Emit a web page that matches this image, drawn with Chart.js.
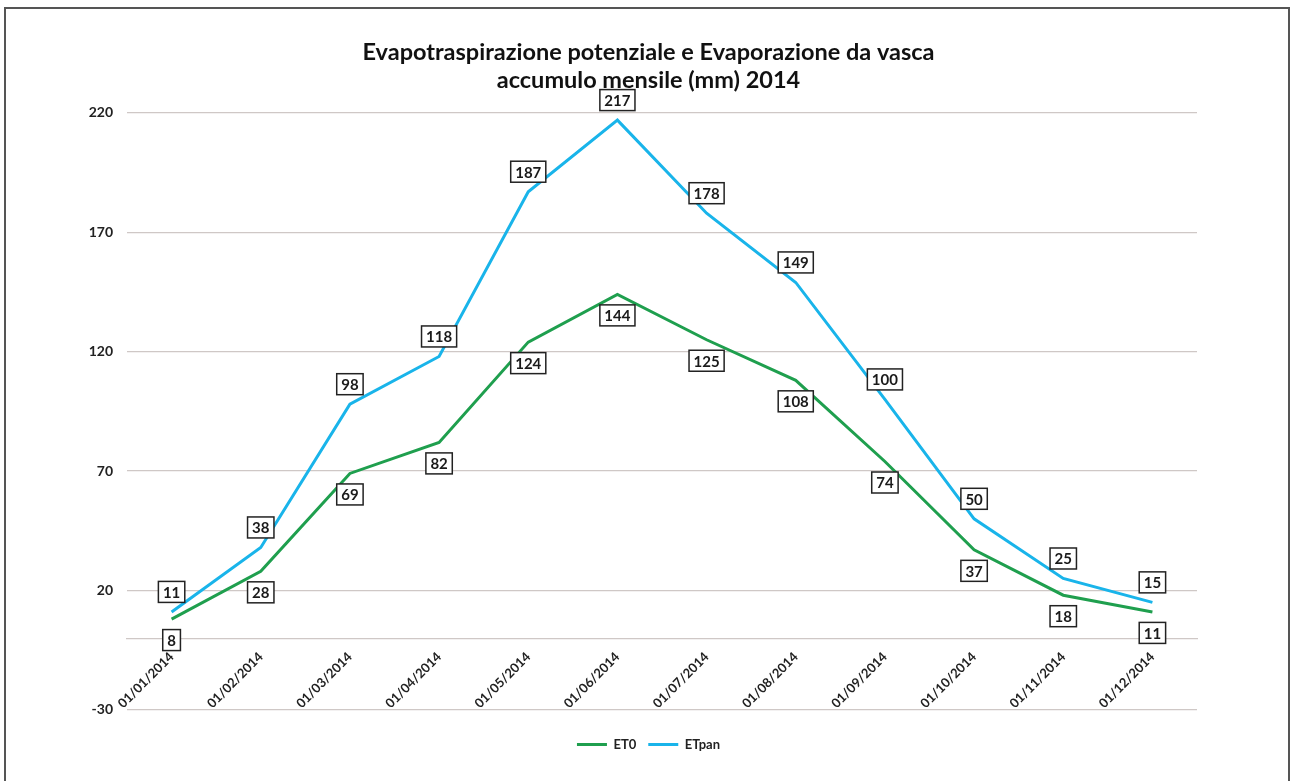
<!DOCTYPE html>
<html>
<head>
<meta charset="utf-8">
<title>Evapotraspirazione 2014</title>
<script src="https://cdn.jsdelivr.net/npm/chart.js@4.4.1/dist/chart.umd.min.js"></script>
<style>
  html, body { margin: 0; padding: 0; background: #fff; }
  #wrap { position: relative; width: 1290px; height: 781px; overflow: hidden; }
  #frame {
    position: absolute; left: 4px; top: 7px; width: 1282px; height: 800px;
    border: 2px solid #555; pointer-events: none;
  }
</style>
</head>
<body>
<div id="wrap">
  <canvas id="etChart" width="1290" height="781"></canvas>
  <div id="frame"></div>
</div>
<script>
// Monthly accumulated values (mm), 2014
const months = ['01/01/2014', '01/02/2014', '01/03/2014', '01/04/2014', '01/05/2014', '01/06/2014',
                '01/07/2014', '01/08/2014', '01/09/2014', '01/10/2014', '01/11/2014', '01/12/2014'];
const et0 = [8, 28, 69, 82, 124, 144, 125, 108, 74, 37, 18, 11];
const etPan = [11, 38, 98, 118, 187, 217, 178, 149, 100, 50, 25, 15];
const yTicks = [-30, 20, 70, 120, 170, 220];

const FONT = 'Lato, "Open Sans", sans-serif';

// Boxed value labels, above or below each point
const boxLabels = {
  id: 'boxLabels',
  afterDatasetsDraw(chart) {
    const ctx = chart.ctx;
    ctx.save();
    ctx.font = 'bold 15px ' + FONT;
    ctx.textAlign = 'center';
    ctx.textBaseline = 'middle';
    chart.data.datasets.forEach((ds, i) => {
      const meta = chart.getDatasetMeta(i);
      meta.data.forEach((pt, j) => {
        const text = String(ds.data[j]);
        const cx = pt.x;
        const cy = pt.y + ds.labelOffset;
        const w = ctx.measureText(text).width + 9;
        const h = 21;
        ctx.fillStyle = '#fff';
        ctx.fillRect(cx - w / 2, cy - h / 2, w, h);
        ctx.lineWidth = 1.5;
        ctx.strokeStyle = '#222';
        ctx.strokeRect(cx - w / 2, cy - h / 2, w, h);
        ctx.fillStyle = '#1a1a1a';
        ctx.fillText(text, cx, cy + 1);
      });
    });
    ctx.restore();
  }
};

// Centre title and legend on the page rather than on the padded area
const centreBlocks = {
  id: 'centreBlocks',
  afterLayout(chart) {
    [chart.legend, chart.titleBlock].forEach(b => {
      b.left += 20;
      b.right += 20;
    });
  }
};

const ctx = document.getElementById('etChart').getContext('2d');

new Chart(ctx, {
  type: 'line',
  data: {
    labels: months,
    datasets: [
      {
        label: 'ET0',
        data: et0,
        borderColor: '#1f9f4e',
        backgroundColor: '#1f9f4e',
        borderWidth: 3,
        pointRadius: 0,
        tension: 0,
        labelOffset: 21
      },
      {
        label: 'ETpan',
        data: etPan,
        borderColor: '#19b4ea',
        backgroundColor: '#19b4ea',
        borderWidth: 3,
        pointRadius: 0,
        tension: 0,
        labelOffset: -20
      }
    ]
  },
  options: {
    responsive: false,
    animation: false,
    layout: { padding: { left: 60, right: 93, top: 10, bottom: 20 } },
    plugins: {
      title: {
        display: true,
        text: ['Evapotraspirazione potenziale e Evaporazione da vasca', 'accumulo mensile (mm) 2014'],
        color: '#111',
        font: { family: FONT, size: 23.5, weight: 'bold', lineHeight: 1.19 },
        padding: { top: 28, bottom: 19 }
      },
      legend: {
        position: 'bottom',
        title: { display: true, text: ' ', font: { size: 1 }, padding: { top: 15, bottom: 0 } },
        labels: {
          usePointStyle: true,
          pointStyle: 'line',
          pointStyleWidth: 30,
          color: '#222',
          padding: 12,
          font: { family: FONT, size: 13, weight: 'bold' }
        }
      },
      tooltip: { enabled: false }
    },
    scales: {
      x: {
        position: { y: 0 },
        offset: true,
        grid: { display: false, drawTicks: false },
        border: { display: true, color: '#cfc8c6', width: 1.2 },
        ticks: {
          minRotation: 45,
          maxRotation: 45,
          autoSkip: false,
          padding: 11,
          color: '#222',
          font: { family: FONT, size: 13, weight: 'bold' }
        }
      },
      y: {
        min: -30,
        max: 220,
        afterBuildTicks: (scale) => { scale.ticks = yTicks.map(v => ({ value: v })); },
        afterFit: (scale) => { scale.width = 67; },
        grid: { color: '#cfc8c6', lineWidth: 1.2, drawTicks: false },
        border: { display: false },
        ticks: {
          padding: 14,
          color: '#222',
          font: { family: FONT, size: 14, weight: 'bold' }
        }
      }
    }
  },
  plugins: [boxLabels, centreBlocks]
});
</script>
</body>
</html>
